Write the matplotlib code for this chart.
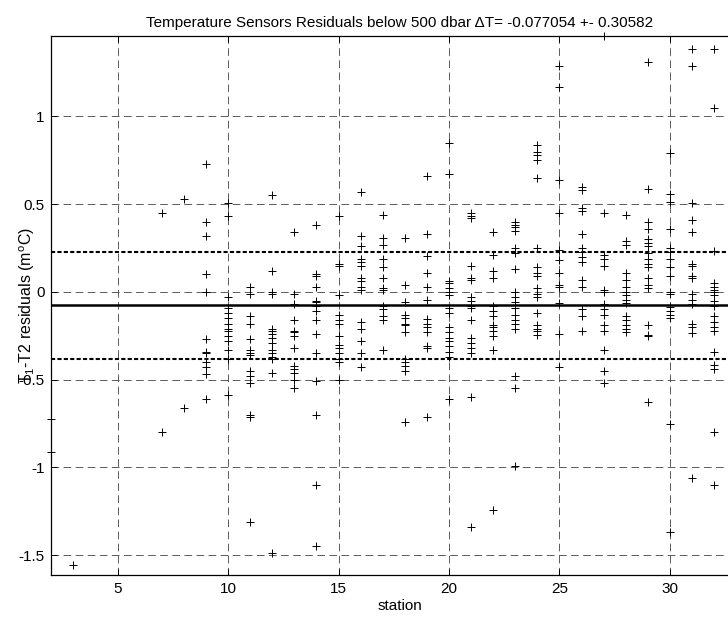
import matplotlib
matplotlib.use("Agg")
import matplotlib.pyplot as plt

plt.rcParams['font.family'] = ['Liberation Sans', 'DejaVu Sans']
plt.rcParams['lines.scale_dashes'] = False
plt.rcParams['mathtext.fontset'] = 'custom'
plt.rcParams['mathtext.rm'] = 'Liberation Sans'
plt.rcParams['mathtext.it'] = 'Liberation Sans'

# ---- data: residuals per station (m°C) ----
st02 = [-0.725, -0.91]
st03 = [-1.555]
st07 = [0.45, -0.80]
st08 = [0.53, -0.66]
st09 = [0.73, 0.40, 0.32, 0.10, 0.0, -0.27, -0.34, -0.35, -0.40, -0.43, -0.47, -0.61]
st10 = [0.505, 0.43, -0.03, -0.09, -0.12, -0.15, -0.18, -0.21, -0.22, -0.25, -0.28, -0.33, -0.38, -0.59]
st11 = [0.03, -0.01, -0.14, -0.18, -0.27, -0.33, -0.35, -0.36, -0.45, -0.48, -0.52, -0.70, -0.71, -1.31]
st12 = [0.55, 0.12, 0.0, -0.01, -0.21, -0.22, -0.24, -0.26, -0.29, -0.33, -0.35, -0.37, -0.38, -0.46, -1.49]
st13 = [0.34, -0.01, -0.07, -0.16, -0.22, -0.23, -0.25, -0.32, -0.42, -0.44, -0.46, -0.50, -0.55]
st14 = [0.38, 0.10, 0.09, 0.03, -0.05, -0.06, -0.08, -0.11, -0.16, -0.24, -0.35, -0.51, -0.70, -1.10, -1.445]
st15 = [0.43, 0.16, 0.15, -0.02, -0.13, -0.16, -0.18, -0.25, -0.30, -0.32, -0.35, -0.38, -0.40, -0.50]
st16 = [0.57, 0.32, 0.26, 0.19, 0.17, 0.15, 0.08, 0.06, 0.03, 0.01, -0.17, -0.21, -0.28, -0.35, -0.43]
st17 = [0.44, 0.31, 0.27, 0.19, 0.14, 0.08, 0.02, 0.01, -0.08, -0.10, -0.14, -0.16, -0.33]
st18 = [0.31, 0.04, -0.055, -0.13, -0.15, -0.18, -0.19, -0.23, -0.38, -0.40, -0.42, -0.45, -0.74]
st19 = [0.66, 0.33, 0.205, 0.11, 0.03, -0.045, -0.155, -0.18, -0.20, -0.23, -0.31, -0.32, -0.71]
st20 = [0.85, 0.67, 0.06, 0.05, 0.02, 0.0, -0.02, -0.09, -0.12, -0.20, -0.23, -0.26, -0.28, -0.31, -0.34, -0.37, -0.61]
st21 = [0.45, 0.43, 0.42, 0.15, 0.08, 0.07, -0.03, -0.05, -0.08, -0.09, -0.16, -0.26, -0.29, -0.32, -0.35, -0.60, -1.34]
st22 = [0.34, 0.21, 0.12, 0.08, -0.08, -0.11, -0.14, -0.19, -0.20, -0.22, -0.25, -0.33, -1.24]
st23 = [0.40, 0.38, 0.37, 0.35, 0.25, 0.22, 0.13, 0.0, -0.03, -0.06, -0.09, -0.13, -0.16, -0.18, -0.21, -0.48, -0.55, -0.99]
st24 = [0.84, 0.80, 0.78, 0.75, 0.65, 0.25, 0.14, 0.11, 0.09, 0.02, -0.01, -0.03, -0.12, -0.19, -0.21, -0.22, -0.245]
st25 = [1.29, 1.17, 0.64, 0.45, 0.24, 0.18, 0.11, 0.04, 0.03, -0.065, -0.24, -0.43]
st26 = [0.60, 0.58, 0.48, 0.46, 0.33, 0.25, 0.23, 0.20, 0.17, 0.07, 0.03, -0.10, -0.14, -0.22]
st27 = [1.46, 0.45, 0.21, 0.19, 0.15, 0.01, 0.0, -0.07, -0.10, -0.13, -0.19, -0.22, -0.33, -0.45, -0.52]
st28 = [0.44, 0.29, 0.27, 0.11, 0.07, 0.03, 0.0, -0.02, -0.045, -0.065, -0.14, -0.16, -0.19, -0.21, -0.23]
st29 = [1.31, 0.585, 0.40, 0.36, 0.30, 0.28, 0.26, 0.22, 0.19, 0.16, 0.14, 0.08, 0.04, 0.02, -0.19, -0.245, -0.25, -0.625]
st30 = [0.79, 0.56, 0.51, 0.36, 0.25, 0.23, 0.19, 0.14, 0.09, 0.0, -0.01, -0.085, -0.11, -0.13, -0.15, -0.75, -1.37]
st31 = [1.385, 1.29, 0.505, 0.41, 0.34, 0.16, 0.15, 0.09, 0.08, -0.01, -0.045, -0.07, -0.18, -0.20, -0.235, -1.06]
st32 = [1.385, 1.05, 0.235, 0.05, 0.03, 0.01, 0.0, -0.02, -0.05, -0.08, -0.14, -0.17, -0.20, -0.22, -0.34, -0.415, -0.44, -0.80, -1.10]

stations = [2, 3, 7, 8, 9, 10, 11, 12, 13, 14, 15, 16, 17, 18, 19, 20,
            21, 22, 23, 24, 25, 26, 27, 28, 29, 30, 31, 32]
residuals = [st02, st03, st07, st08, st09, st10, st11, st12, st13, st14, st15, st16,
             st17, st18, st19, st20, st21, st22, st23, st24, st25, st26, st27, st28,
             st29, st30, st31, st32]

mean_dT = -0.077054
std_dT = 0.30582

xticks = [5, 10, 15, 20, 25, 30]
yticks = [-1.5, -1, -0.5, 0, 0.5, 1]
yticklabels = ['-1.5', '-1', '-0.5', '0', '0.5', '1']

# ---- figure ----
W, H = 728, 621
fig = plt.figure(figsize=(W / 100, H / 100), dpi=100)
left_px, right_px, top_px, bot_px = 51.4, 748.5, 35.7, 575.0
ax = fig.add_axes([left_px / W, 1 - bot_px / H,
                   (right_px - left_px) / W, (bot_px - top_px) / H])

xs, ys = [], []
for s, vals in zip(stations, residuals):
    xs.extend([s] * len(vals))
    ys.extend(vals)

ax.plot(xs, ys, linestyle='none', marker='+', color='k',
        markersize=5.5, markeredgewidth=0.7, zorder=3, clip_on=False)

ax.axhline(mean_dT, color='k', lw=1.8, zorder=2)
ax.axhline(mean_dT + std_dT, color='k', lw=1.5, ls=(0, (3.0, 1.6)), zorder=2)
ax.axhline(mean_dT - std_dT, color='k', lw=1.5, ls=(0, (3.0, 1.6)), zorder=2)

ax.set_xlim(2, 33.56)
ax.set_ylim(-1.613, 1.46)
ax.set_xticks(xticks)
ax.set_yticks(yticks)
ax.set_yticklabels(yticklabels)

ax.grid(True, color='0.25', lw=0.6, ls=(0, (5.5, 3.2)))
ax.set_axisbelow(True)

ax.tick_params(direction='in', length=4, width=0.7, top=True, right=True,
               labelsize=11, pad=5)
for sp in ax.spines.values():
    sp.set_linewidth(0.9)

ax.set_title('Temperature Sensors Residuals below 500 dbar \u0394T= -0.077054 +- 0.30582',
             fontsize=11, pad=6)
ax.set_xlabel('station', fontsize=11, labelpad=2)
ax.set_ylabel(r'T$_1$-T2 residuals (m$^{\rm o}$C)', fontsize=11.5)
ax.yaxis.set_label_coords(-0.021, 0.5)

fig.savefig('out.png', dpi=100)
